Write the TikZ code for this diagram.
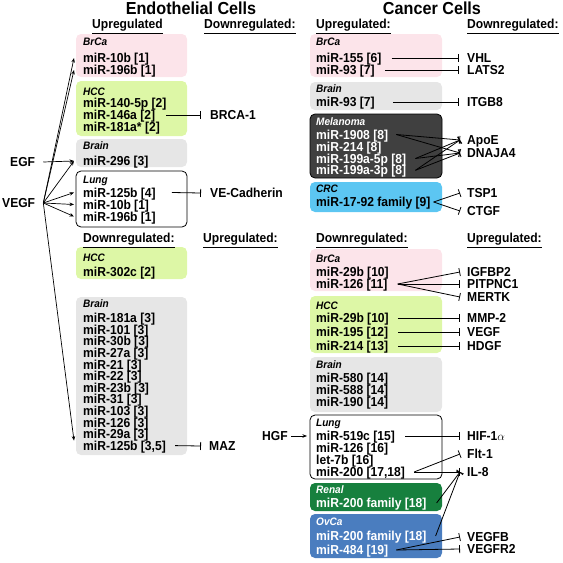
\documentclass[tikz,border=0pt]{standalone}
\usepackage{fontspec}
\setmainfont{Liberation Sans}[FakeStretch=0.93]
\usetikzlibrary{arrows.meta}
\definecolor{pinkc}{HTML}{FCE4EA}
\definecolor{greenc}{HTML}{DDF7A6}
\definecolor{grayc}{HTML}{E6E6E6}
\definecolor{darkc}{HTML}{404040}
\definecolor{cyanc}{HTML}{5CC6F2}
\definecolor{renalc}{HTML}{17803E}
\definecolor{ovc}{HTML}{4A7DBF}
\begin{document}
\begin{tikzpicture}[x=1pt,y=-1pt,
 t/.style={anchor=west,inner sep=0pt,text height=9.3pt,text depth=0pt,font=\fontsize{13}{13}\selectfont\bfseries},
 lb/.style={anchor=west,inner sep=0pt,text height=7.7pt,text depth=0pt,font=\fontsize{10.8}{10.8}\selectfont\bfseries\itshape},
 wt/.style={text=white},
 bx/.style={rounded corners=5pt},
 inh/.style={-{Bar[width=8pt]},line width=0.8pt},
 act/.style={-{Stealth[length=4.5pt,width=3.5pt]},line width=0.7pt},
 tt/.style={anchor=base,inner sep=0pt,font=\fontsize{17.4}{17.4}\selectfont\bfseries}]
\useasboundingbox (0,0) rectangle (563,563);
% boxes left
\fill[pinkc,bx] (76,34) rectangle (187,77);
\fill[greenc,bx] (76,81) rectangle (187,136);
\fill[grayc,bx] (76,139) rectangle (187,167);
\draw[bx,line width=0.8pt] (76,171) rectangle (187,227);
\fill[greenc,bx] (76,247) rectangle (187,279);
\fill[grayc,bx] (76,297) rectangle (187,455);
% boxes right
\fill[pinkc,bx] (310,34) rectangle (442,77);
\fill[grayc,bx] (310,82) rectangle (442,110);
\filldraw[fill=darkc,draw=black,line width=0.8pt,bx] (310,114) rectangle (442,178);
\fill[cyanc,bx] (310,182) rectangle (442,212);
\fill[pinkc,bx] (310,249) rectangle (442,291);
\fill[greenc,bx] (310,296) rectangle (442,353);
\fill[grayc,bx] (310,357) rectangle (442,412);
\draw[bx,line width=0.8pt] (310,415) rectangle (442,479);
\fill[renalc,bx] (310,483) rectangle (442,511);
\fill[ovc,bx] (310,514) rectangle (442,558);
% titles
\node[tt] (tEndo) at (191,14) {Endothelial Cells};
\node[tt] (tCanc) at (432,14) {Cancer Cells};
\node[t] (h1) at (92,24) {\underline{Upregulated}};
\node[t] (h2) at (204,24) {\underline{Downregulated:}};
\node[t] (h3) at (316,24) {\underline{Upregulated:}};
\node[t] (h4) at (467,24) {\underline{Downregulated:}};
\node[t] (h5) at (83,238) {\underline{Downregulated:}};
\node[t] (h6) at (203,238) {\underline{Upregulated:}};
\node[t] (h7) at (316,238) {\underline{Downregulated:}};
\node[t] (h8) at (467,238) {\underline{Upregulated:}};
% left column top
\node[lb] (lbr) at (83,42) {BrCa};
\node[t] (l10b) at (83,58) {miR-10b [1]};
\node[t] (l196b) at (83,70) {miR-196b [1]};
\node[lb] (lhcc) at (83,92) {HCC};
\node[t] (l140) at (83,103) {miR-140-5p [2]};
\node[t] (l146) at (83,115) {miR-146a [2]};
\node[t] (l181s) at (83,127) {miR-181a* [2]};
\node[lb] (lbrain) at (83,146) {Brain};
\node[t] (l296) at (83,161) {miR-296 [3]};
\node[lb] (llung) at (83,180) {Lung};
\node[t] (l125b) at (83,192.5) {miR-125b [4]};
\node[t] (l10bL) at (83,204.5) {miR-10b [1]};
\node[t] (l196bL) at (83,216.5) {miR-196b [1]};
\node[t] (brca1) at (210,115) {BRCA-1};
\node[t] (vecad) at (210,193) {VE-Cadherin};
\node[t] (egf) at (10,162) {EGF};
\node[t] (vegf) at (2,203) {VEGF};
% left column bottom
\node[lb] (lhcc2) at (83,258) {HCC};
\node[t] (l302) at (83,272) {miR-302c [2]};
\node[lb] (lbrain2) at (83,304) {Brain};
\node[t] (b1) at (83,318) {miR-181a [3]};
\node[t] (b2) at (83,329.6) {miR-101 [3]};
\node[t] (b3) at (83,341.2) {miR-30b [3]};
\node[t] (b4) at (83,352.8) {miR-27a [3]};
\node[t] (b5) at (83,364.4) {miR-21 [3]};
\node[t] (b6) at (83,376) {miR-22 [3]};
\node[t] (b7) at (83,387.6) {miR-23b [3]};
\node[t] (b8) at (83,399.2) {miR-31 [3]};
\node[t] (b9) at (83,410.8) {miR-103 [3]};
\node[t] (b10) at (83,422.4) {miR-126 [3]};
\node[t] (b11) at (83,434) {miR-29a [3]};
\node[t] (l125c) at (83,445.6) {miR-125b [3,5]};
\node[t] (maz) at (209,446) {MAZ};
\node[t] (hgf) at (262,436) {HGF};
% right column top
\node[lb] (rbr) at (316,42) {BrCa};
\node[t] (r155) at (316,58) {miR-155 [6]};
\node[t] (r93) at (316,70) {miR-93 [7]};
\node[t] (vhl) at (467,58) {VHL};
\node[t] (lats) at (467,70) {LATS2};
\node[lb] (rbrain) at (316,89) {Brain};
\node[t] (rb93) at (316,102) {miR-93 [7]};
\node[t] (itgb) at (467,102) {ITGB8};
\node[lb,wt] (rmel) at (316,122) {Melanoma};
\node[t,wt] (r1908) at (316,134.5) {miR-1908 [8]};
\node[t,wt] (r214) at (316,146.5) {miR-214 [8]};
\node[t,wt] (r5p) at (316,158.5) {miR-199a-5p [8]};
\node[t,wt] (r3p) at (316,170.3) {miR-199a-3p [8]};
\node[t] (apoe) at (467,140) {ApoE};
\node[t] (dnaj) at (467,153) {DNAJA4};
\node[lb] (rcrc) at (316,189) {CRC};
\node[t] (r1792) at (316,202) {miR-17-92 family [9]};
\node[t] (tsp) at (467,193) {TSP1};
\node[t] (ctgf) at (467,211) {CTGF};
% right column bottom
\node[lb] (rbr2) at (316,259) {BrCa};
\node[t] (r29b) at (316,272) {miR-29b [10]};
\node[t] (r126) at (316,284) {miR-126 [11]};
\node[t] (igf) at (467,272) {IGFBP2};
\node[t] (pit) at (467,284) {PITPNC1};
\node[t] (mer) at (467,297) {MERTK};
\node[lb] (rhcc) at (316,306) {HCC};
\node[t] (h29b) at (316,318) {miR-29b [10]};
\node[t] (h195) at (316,332) {miR-195 [12]};
\node[t] (h214) at (316,346) {miR-214 [13]};
\node[t] (mmp) at (467,318) {MMP-2};
\node[t] (vegf2) at (467,332) {VEGF};
\node[t] (hdgf) at (467,346) {HDGF};
\node[lb] (rbrain2) at (316,365) {Brain};
\node[t] (r580) at (316,378) {miR-580 [14]};
\node[t] (r588) at (316,390) {miR-588 [14]};
\node[t] (r190) at (316,402) {miR-190 [14]};
\node[lb] (rlung) at (316,423) {Lung};
\node[t] (r519) at (316,436) {miR-519c [15]};
\node[t] (r126L) at (316,447.8) {miR-126 [16]};
\node[t] (let7) at (316,460) {let-7b [16]};
\node[t] (r200) at (316,472) {miR-200 [17,18]};
\node[t] (hif) at (467,436) {HIF-1$\alpha$};
\node[t] (flt) at (467,454) {Flt-1};
\node[t] (il8) at (467,472) {IL-8};
\node[lb,wt] (rren) at (316,490) {Renal};
\node[t,wt] (ren200) at (316,503) {miR-200 family [18]};
\node[lb,wt] (rov) at (316,522) {OvCa};
\node[t,wt] (ov200) at (316,536) {miR-200 family [18]};
\node[t,wt] (r484) at (316,550) {miR-484 [19]};
\node[t] (vegfb) at (467,537) {VEGFB};
\node[t] (vegfr) at (467,549) {VEGFR2};
% activation arrows
\coordinate (vo) at ([xshift=8pt]vegf.east);
\draw[act] ([xshift=8pt]egf.east) -- ([xshift=-9pt]l296.west);
\draw[act] (vo) -- ([xshift=-9pt]l10b.west);
\draw[act] (vo) -- ([xshift=-9pt]l196b.west);
\draw[act] (vo) -- ([xshift=-9pt]l296.west);
\draw[act] (vo) -- ([xshift=-9pt]l125b.west);
\draw[act] (vo) -- ([xshift=-9pt]l10bL.west);
\draw[act] (vo) -- ([xshift=-9pt]l196bL.west);
\draw[act] (vo) -- ([xshift=-9pt,yshift=5pt]l125c.west);
\draw[act] ([xshift=3pt]hgf.east) -- ([xshift=-9pt]r519.west);
% inhibitions left
\draw[inh] ([xshift=11pt]l146.east) -- ([xshift=-9pt]brca1.west);
\draw[inh] ([xshift=16pt]l125b.east) -- ([xshift=-9pt]vecad.west);
\draw[inh] ([xshift=9pt]l125c.east) -- ([xshift=-8pt]maz.west);
% inhibitions right
\draw[inh] ([xshift=10pt]r155.east) -- ([xshift=-8pt]vhl.west);
\draw[inh] ([xshift=10pt]r93.east) -- ([xshift=-8pt]lats.west);
\draw[inh] ([xshift=18pt]rb93.east) -- ([xshift=-8pt]itgb.west);
\draw[inh] ([xshift=8pt]r1908.east) -- ([xshift=-7pt]apoe.west);
\draw[inh] ([xshift=8pt]r1908.east) -- ([xshift=-7pt]dnaj.west);
\draw[inh] ([xshift=9pt]r5p.east) -- ([xshift=-7pt]apoe.west);
\draw[inh] ([xshift=9pt]r5p.east) -- ([xshift=-7pt]dnaj.west);
\draw[inh] ([xshift=9pt]r3p.east) -- ([xshift=-7pt]apoe.west);
\draw[inh] ([xshift=9pt]r3p.east) -- ([xshift=-7pt]dnaj.west);
\draw[inh] ([xshift=3pt]r1792.east) -- ([xshift=-7pt]tsp.west);
\draw[inh] ([xshift=3pt]r1792.east) -- ([xshift=-7pt]ctgf.west);
\draw[inh] ([xshift=10pt]r126.east) -- ([xshift=-7pt]igf.west);
\draw[inh] ([xshift=10pt]r126.east) -- ([xshift=-7pt]pit.west);
\draw[inh] ([xshift=10pt]r126.east) -- ([xshift=-7pt]mer.west);
\draw[inh] ([xshift=9pt]h29b.east) -- ([xshift=-7pt]mmp.west);
\draw[inh] ([xshift=10pt]h195.east) -- ([xshift=-7pt]vegf2.west);
\draw[inh] ([xshift=10pt]h214.east) -- ([xshift=-7pt]hdgf.west);
\draw[inh] ([xshift=10pt]r519.east) -- ([xshift=-7pt]hif.west);
\draw[inh] ([xshift=9pt]r200.east) -- ([xshift=-7pt]flt.west);
\draw[inh] ([xshift=9pt]r200.east) -- ([xshift=-7pt]il8.west);
\draw[inh] ([xshift=10pt]ren200.east) -- ([xshift=-7pt]il8.west);
\draw[inh] ([xshift=9pt]ov200.east) -- ([xshift=-7pt]il8.west);
\draw[inh] ([xshift=8pt]r484.east) -- ([xshift=-7pt]vegfb.west);
\draw[inh] ([xshift=8pt]r484.east) -- ([xshift=-7pt]vegfr.west);
\end{tikzpicture}
\end{document}
